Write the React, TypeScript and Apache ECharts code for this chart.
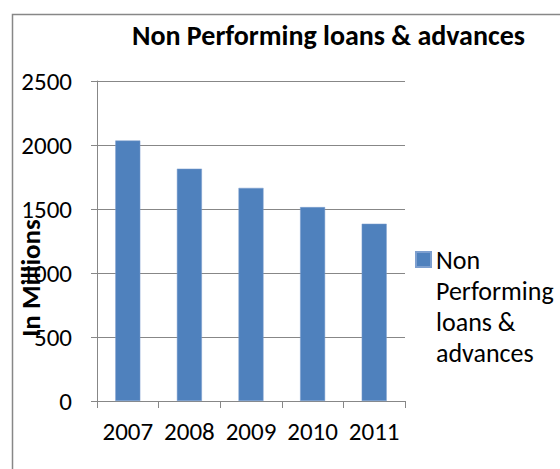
import React, { useEffect, useRef } from "react";
import * as echarts from "echarts";

const categories = ["2007", "2008", "2009", "2010", "2011"];
const npaValues = [2035, 1815, 1665, 1515, 1385];
const seriesName = "Non Performing loans & advances";
const legendLines = ["Non", "Performing", "loans &", "advances"];
const yAxisTitle = "In Millions";
const chartTitle = "Non Performing loans & advances";

const FONT = "Carlito, 'Liberation Sans', Arial, sans-serif";
const GRAY = "#878787";

export default function App() {
  const ref = useRef<HTMLDivElement>(null);
  useEffect(() => {
    if (!ref.current) return;
    const chart = echarts.init(ref.current, null, { renderer: "svg" });
    chart.setOption({
      animation: false,
      backgroundColor: "#ffffff",
      title: {
        text: chartTitle,
        left: 132,
        top: 21,
        padding: 0,
        textStyle: { fontFamily: FONT, fontSize: 28, fontWeight: "bold", color: "#000" },
      },
      legend: {
        left: 415,
        top: 151,
        padding: 0,
        icon: "rect",
        itemWidth: 15,
        itemHeight: 15,
        data: [seriesName],
        formatter: () => "\n\n\n" + legendLines.join("\n"),
        textStyle: { fontFamily: FONT, fontSize: 26, color: "#000", lineHeight: 31 },
      },
      grid: { left: 97, right: 155, top: 81, bottom: 68, containLabel: false },
      xAxis: {
        type: "category",
        data: categories,
        boundaryGap: true,
        axisLine: { show: true, lineStyle: { color: GRAY, width: 1 } },
        axisTick: { show: true, length: 7, alignWithLabel: false, lineStyle: { color: GRAY } },
        axisLabel: { margin: 18, fontFamily: FONT, fontSize: 25, color: "#000", interval: 0 },
        splitLine: { show: false },
      },
      yAxis: {
        type: "value",
        min: 0,
        max: 2500,
        interval: 500,
        axisLine: { show: true, lineStyle: { color: GRAY, width: 1 } },
        axisTick: { show: true, length: 6, lineStyle: { color: GRAY } },
        axisLabel: {
          margin: 25,
          fontFamily: FONT,
          fontSize: 25,
          color: "#000",
          formatter: (v: number) => String(v),
        },
        splitLine: { show: true, lineStyle: { color: GRAY, width: 1 } },
      },
      series: [
        {
          name: seriesName,
          type: "bar",
          data: npaValues,
          barWidth: 25,
          itemStyle: { color: "#4F81BD", borderColor: "#7D9FCF", borderWidth: 0.5 },
        },
      ],
      graphic: [
        {
          type: "rect",
          silent: true,
          z: -1,
          shape: { x: 12.5, y: 14.5, width: 700, height: 600 },
          style: { fill: "none", stroke: GRAY, lineWidth: 1.5 },
        },
        {
          type: "text",
          x: 30,
          y: 278,
          rotation: Math.PI / 2,
          style: {
            text: yAxisTitle,
            fontFamily: FONT,
            fontSize: 27,
            fontWeight: "bold",
            fill: "#000",
            align: "center",
            verticalAlign: "middle",
          },
        },
      ],
    });
    return () => chart.dispose();
  }, []);
  return (
    <div
      ref={ref}
      style={{ position: "fixed", left: 0, top: 0, width: 560, height: 469, background: "#fff" }}
    />
  );
}
